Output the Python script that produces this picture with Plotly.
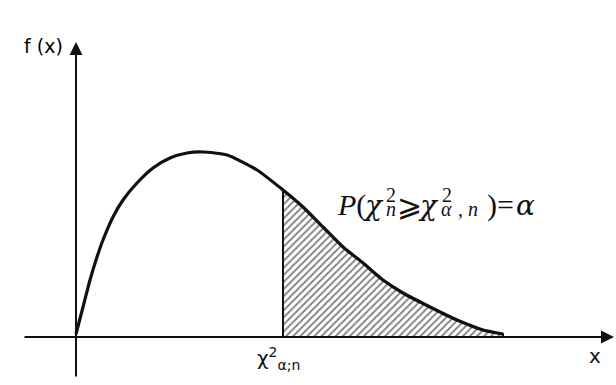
import plotly.graph_objects as go

# Density curve (arbitrary units)
curve_x = [0.0, 0.7, 1.4, 2.1, 2.7, 3.7, 4.7, 6.1, 7.7, 9.4, 11.1, 12.7, 15.1, 18.1,
           20.7, 22.7, 24.7, 26.7, 28.7, 30.7, 32.7, 35.4, 38.1, 40.7, 42.7]
curve_y = [0.3, 3.0, 5.7, 8.0, 9.7, 12.0, 13.7, 15.4, 16.9, 17.9, 18.4, 18.5, 18.2, 16.7,
           14.7, 13.0, 11.0, 9.0, 7.4, 5.7, 4.4, 3.0, 1.7, 0.7, 0.3]

critical_x = 20.7          # chi^2_{alpha;n}
tail_end_x = 42.7

W, H = 616, 385
x_range = [-7.6, 54.0]
y_range = [-4.8, 33.7]

fig = go.Figure()

# hatched tail area
tx = [x for x in curve_x if critical_x <= x <= tail_end_x]
ty = [y for x, y in zip(curve_x, curve_y) if critical_x <= x <= tail_end_x]
poly_x = [critical_x] + tx + [tail_end_x, critical_x]
poly_y = [0] + ty + [0, 0]
fig.add_trace(go.Scatter(
    x=poly_x, y=poly_y, mode="lines", fill="toself",
    fillcolor="rgba(0,0,0,0)",
    fillpattern=dict(shape="/", size=5, solidity=0.35, fgcolor="#000000", bgcolor="white"),
    line=dict(color="#111111", width=2), hoverinfo="skip", showlegend=False))

# density curve
fig.add_trace(go.Scatter(
    x=curve_x, y=curve_y, mode="lines",
    line=dict(color="#111111", width=3.2, shape="spline", smoothing=0.6),
    hoverinfo="skip", showlegend=False))

annotations = []
# axes as arrows
annotations.append(dict(x=53.8, y=0, ax=-5.3, ay=0, xref="x", yref="y", axref="x", ayref="y",
                        showarrow=True, arrowhead=2, arrowsize=1.3, arrowwidth=2, arrowcolor="#111111", text=""))
annotations.append(dict(x=0, y=29.5, ax=0, ay=-4.1, xref="x", yref="y", axref="x", ayref="y",
                        showarrow=True, arrowhead=2, arrowsize=1.3, arrowwidth=2, arrowcolor="#111111", text=""))

sans = "DejaVu Sans, Arial, sans-serif"
serif = "Liberation Serif, Times New Roman, serif"
greek = "DejaVu Serif, Liberation Serif, serif"
ink = "#111111"
annotations.append(dict(x=-3.3, y=29.15, xref="x", yref="y", text="f (x)", showarrow=False,
                        font=dict(family=sans, size=19, color="#000000")))
annotations.append(dict(x=51.9, y=-1.9, xref="x", yref="y", text="x", showarrow=False,
                        font=dict(family=sans, size=20, color=ink)))
annotations.append(dict(x=17.9, y=-2.1, xref="x", yref="y", xanchor="left",
                        text="χ<sup>2</sup><sub>α;n</sub>", showarrow=False,
                        font=dict(family=sans, size=20, color=ink)))

# P(chi^2_n >= chi^2_{alpha,n}) = alpha, built piece by piece with stacked scripts
big, small = 30, 20
y_main, y_sup, y_sub = 13.2, 14.2, 12.8
pieces = [
    (25.9, y_main, "<i>P</i>(", serif, big),
    (28.5, y_main, "<i>χ</i>", greek, 28),
    (30.8, y_sup, "2", serif, small),
    (30.8, y_sub, "<i>n</i>", serif, small),
    (31.9, y_main, "⩾", serif, big),
    (34.0, y_main, "<i>χ</i>", greek, 28),
    (36.4, y_sup, "2", serif, small),
    (36.3, y_sub, "<i>α</i>", serif, small),
    (38.0, y_sub, ",", serif, small),
    (39.0, y_sub, "<i>n</i>", serif, small),
    (40.9, y_main, ")=", serif, big),
    (43.8, y_main, "<i>α</i>", greek, 28),
]
for px_, py_, txt, fam, sz in pieces:
    annotations.append(dict(x=px_, y=py_, xref="x", yref="y", xanchor="left", yanchor="middle",
                            text=txt, showarrow=False, font=dict(family=fam, size=sz, color=ink)))

fig.update_layout(
    width=W, height=H, margin=dict(l=0, r=0, t=0, b=0),
    paper_bgcolor="white", plot_bgcolor="white",
    xaxis=dict(range=x_range, visible=False, fixedrange=True),
    yaxis=dict(range=y_range, visible=False, fixedrange=True),
    annotations=annotations, showlegend=False)

fig.write_html("out.html", config={"displayModeBar": False},
               post_script="document.body.style.margin='0';document.body.style.overflow='hidden';")
